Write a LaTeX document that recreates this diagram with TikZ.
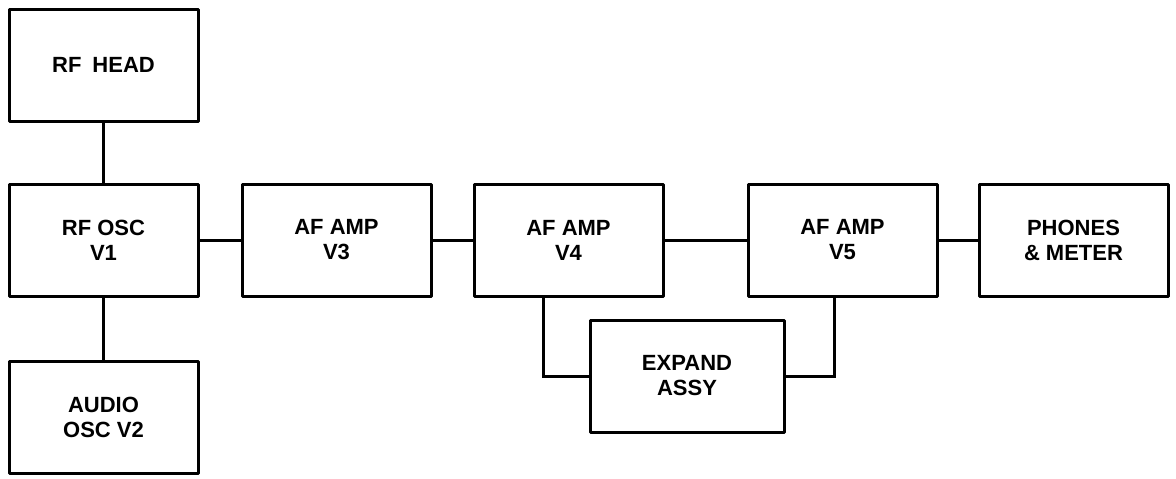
\documentclass[tikz,border=0pt]{standalone}
\usepackage{fontspec}
\setmainfont{Liberation Sans}
\usetikzlibrary{positioning}

\begin{document}
\begin{tikzpicture}[
    block/.style={rectangle, draw=black, line width=1.5pt, line join=round, minimum width=94.5pt, minimum height=56pt, align=center, font=\bfseries\fontsize{11}{12.5}\selectfont},
    wire/.style={line width=1.5pt},
  ]
    \useasboundingbox (0,0) rectangle (588pt,-239pt);
    \node[block] (osc) at (51.75pt,-120pt) {RF OSC\\V1};
    \node[block, above=30pt of osc] (head) {RF\enspace HEAD};
    \node[block, below=31pt of osc] (audio) {AUDIO\\OSC V2};
    \node[block, right=20.5pt of osc] (ampa) {AF AMP\\V3};
    \node[block, right=20pt of ampa] (ampb) {AF AMP\\V4};
    \node[block, right=41pt of ampb] (ampc) {AF AMP\\V5};
    \node[block, right=19.5pt of ampc] (phones) {PHONES\\\& METER};
    \node[block, minimum width=97pt, below right=10.5pt and -38pt of ampb] (expand) {EXPAND\\ASSY};

    \draw[wire] (head) -- (osc);
    \draw[wire] (osc) -- (audio);
    \draw[wire] (osc) -- (ampa);
    \draw[wire] (ampa) -- (ampb);
    \draw[wire] (ampb) -- (ampc);
    \draw[wire] (ampc) -- (phones);
    \draw[wire] ([xshift=-12.5pt]ampb.south) |- (expand);
    \draw[wire] ([xshift=-4pt]ampc.south) |- (expand);
  \end{tikzpicture}
\end{document}
